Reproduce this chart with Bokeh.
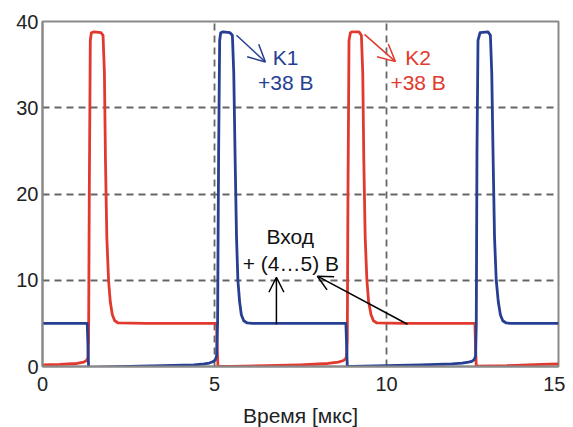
from bokeh.plotting import figure
from bokeh.models import Range1d, FixedTicker, Arrow, OpenHead, Label
from bokeh.embed import file_html
from bokeh.resources import INLINE

# ---- data ----
x_ticks = [0, 5, 10, 15]
y_ticks = [0, 10, 20, 30, 40]
x_grid = [5, 10]
y_grid = [10, 20, 30]

# K2 (red) trace
k2_t = [0, 0.5, 1.0, 1.2, 1.28, 1.32, 1.34, 1.36, 1.39, 1.42, 1.5, 1.7, 1.76, 1.80,
        1.83, 1.87, 1.92, 1.97, 2.03, 2.1, 2.2, 3.0, 4.0, 5.06, 5.08, 5.10, 5.5, 6.5,
        7.5, 8.3, 8.6, 8.75, 8.81, 8.84, 8.86, 8.88, 8.91, 8.95, 9.0, 9.2, 9.27, 9.31,
        9.34, 9.38, 9.43, 9.48, 9.55, 9.62, 9.72, 10.5, 11.5, 12.57, 12.59, 12.61,
        13.5, 14.5, 15]
k2_v = [0.2, 0.25, 0.35, 0.5, 0.7, 1.0, 3, 20, 37.8, 38.7, 38.8, 38.7, 38.4, 34,
        24, 15, 10, 7.5, 6, 5.3, 5.05, 5, 5, 5, 2, 0.05, 0.0, 0.1,
        0.2, 0.35, 0.5, 0.7, 0.9, 1.2, 3, 20, 37.8, 38.7, 38.8, 38.8, 38.4, 34,
        24, 15, 10, 7.5, 6, 5.3, 5.05, 5, 5, 5, 2, 0.05,
        0.1, 0.25, 0.3]

# K1 (blue) trace
k1_t = [0, 1.30, 1.32, 1.34, 1.5, 2.5, 3.5, 4.4, 4.7, 4.85, 4.95, 5.02, 5.06, 5.09,
        5.12, 5.15, 5.18, 5.25, 5.45, 5.52, 5.56, 5.60, 5.64, 5.68, 5.73, 5.78, 5.85,
        5.95, 6.1, 7, 8, 8.82, 8.84, 8.86, 9.0, 10, 11, 11.9, 12.2, 12.38, 12.48,
        12.55, 12.59, 12.61, 12.63, 12.66, 12.72, 12.95, 13.02, 13.06, 13.10, 13.14,
        13.19, 13.25, 13.31, 13.38, 13.48, 13.6, 14, 15]
k1_v = [5, 5, 2.5, -0.1, -0.1, 0, 0.1, 0.2, 0.3, 0.4, 0.55, 0.75, 1.2, 5,
        25, 37.8, 38.7, 38.8, 38.7, 38.4, 34, 24, 15, 10, 7.5, 6, 5.3,
        5.05, 5, 5, 5, 5, 2.5, 0.0, 0.0, 0.1, 0.2, 0.3, 0.4, 0.5, 0.6,
        0.8, 1.2, 5, 25, 37.8, 38.7, 38.8, 38.4, 34, 24, 15,
        10, 7.5, 6, 5.3, 5.05, 5, 5, 5]

RED = "#e2392e"
BLUE = "#263f92"
GRAY = "#8a8a8a"
FONT = "Liberation Sans"

p = figure(width=565, height=419, output_backend="svg", toolbar_location=None,
           x_range=Range1d(0, 15), y_range=Range1d(0, 40),
           min_border_left=42, min_border_right=7, min_border_top=21, min_border_bottom=53)
p.frame_width = 516
p.frame_height = 345
p.background_fill_color = "white"
p.border_fill_color = "white"
p.outline_line_color = GRAY
p.outline_line_width = 2

for ax in (p.xaxis[0], p.yaxis[0]):
    ax.axis_line_color = GRAY
    ax.axis_line_width = 2
    ax.major_tick_line_color = None
    ax.minor_tick_line_color = None
    ax.major_tick_out = 0
    ax.major_tick_in = 0
    ax.major_label_text_font = FONT
    ax.major_label_text_font_size = "20px"
    ax.major_label_text_color = "#222222"

p.xaxis.ticker = FixedTicker(ticks=x_ticks)
p.yaxis.ticker = FixedTicker(ticks=y_ticks)
p.xaxis.major_label_standoff = 10
p.yaxis.major_label_standoff = 4
p.xaxis.axis_label = "Время [мкс]"
p.xaxis.axis_label_text_font = FONT
p.xaxis.axis_label_text_font_size = "21px"
p.xaxis.axis_label_text_font_style = "normal"
p.xaxis.axis_label_text_color = "#222222"
p.xaxis.axis_label_standoff = 10

p.xgrid.ticker = FixedTicker(ticks=x_grid)
p.ygrid.ticker = FixedTicker(ticks=y_grid)
for g in (p.xgrid[0], p.ygrid[0]):
    g.grid_line_color = "#666666"
    g.grid_line_width = 1.8
    g.grid_line_dash = "7 5"

p.line(k2_t, k2_v, line_color=RED, line_width=2.8, line_join="round")
p.line(k1_t, k1_v, line_color=BLUE, line_width=2.8, line_join="round")

# arrows
p.add_layout(Arrow(x_start=5.64, y_start=38.4, x_end=6.48, y_end=35.3,
                   line_color=BLUE, line_width=1.5,
                   end=OpenHead(size=17, line_color=BLUE, line_width=1.5)))
p.add_layout(Arrow(x_start=9.36, y_start=38.5, x_end=10.26, y_end=35.35,
                   line_color=RED, line_width=1.5,
                   end=OpenHead(size=17, line_color=RED, line_width=1.5)))
p.add_layout(Arrow(x_start=6.80, y_start=4.9, x_end=6.80, y_end=10.35,
                   line_color="black", line_width=1.5,
                   end=OpenHead(size=15, line_color="black", line_width=1.5)))
p.add_layout(Arrow(x_start=10.61, y_start=4.9, x_end=7.99, y_end=10.47,
                   line_color="black", line_width=1.5,
                   end=OpenHead(size=15, line_color="black", line_width=1.5)))

def lab(x, y, t, c):
    p.add_layout(Label(x=x, y=y, text=t, text_color=c, text_font=FONT,
                       text_font_size="21px", text_align="center",
                       text_baseline="middle"))

lab(7.07, 35.8, "K1", BLUE)
lab(7.07, 32.9, "+38 В", BLUE)
lab(10.92, 35.8, "K2", RED)
lab(10.92, 32.9, "+38 В", RED)
lab(7.2, 15.1, "Вход", "#111111")
lab(7.22, 12.0, "+ (4…5) В", "#111111")

open("out.html", "w").write(file_html(p, INLINE))
